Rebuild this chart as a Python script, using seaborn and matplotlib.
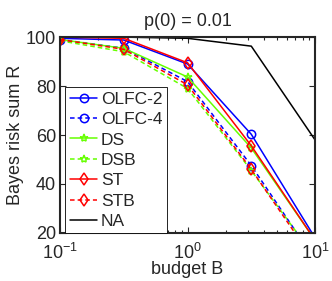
import numpy as np
import pandas as pd
import matplotlib
matplotlib.use("Agg")
import matplotlib.pyplot as plt
import seaborn as sns

# budget values (log spaced) and Bayes risk sums
budget = [0.1, 0.316, 1.0, 3.16, 10.0]
olfc2 = [99.5, 98.8, 89.0, 60.3, 18.0]
olfc4 = [99.0, 95.5, 81.8, 47.5, 9.0]
ds = [99.0, 95.4, 83.7, 54.7, 17.0]
dsb = [98.5, 94.0, 79.0, 45.5, 10.0]
st = [100.0, 99.5, 89.5, 55.6, 17.0]
stb = [99.0, 95.0, 80.5, 46.0, 8.0]
na = [100.0, 100.0, 99.5, 96.3, 58.0]

series = ["OLFC-2", "OLFC-4", "DS", "DSB", "ST", "STB", "NA"]
values = [olfc2, olfc4, ds, dsb, st, stb, na]

green = (0.4, 1.0, 0.0)
dash = (0, (3, 2))
styles = {
    "OLFC-2": dict(color="blue", ls="-", marker="o"),
    "OLFC-4": dict(color="blue", ls=dash, marker="o"),
    "DS": dict(color=green, ls="-", marker="*"),
    "DSB": dict(color=green, ls=dash, marker="*"),
    "ST": dict(color="red", ls="-", marker="d"),
    "STB": dict(color="red", ls=dash, marker="d"),
    "NA": dict(color="black", ls="-", marker=None),
}

df = pd.DataFrame({"budget": budget * len(series),
                   "risk": sum(values, []),
                   "method": np.repeat(series, len(budget))})

sns.set_style("ticks")
plt.rcParams['font.family'] = ['Liberation Sans', 'DejaVu Sans']
plt.rcParams['xtick.direction'] = 'in'
plt.rcParams['ytick.direction'] = 'in'

fig = plt.figure(figsize=(3.32, 2.81), dpi=100)
ax = fig.add_axes([0.181, 0.171, 0.768, 0.697])

for name in series:
    s = styles[name]
    sns.lineplot(data=df[df.method == name], x="budget", y="risk", ax=ax,
                 color=s["color"], linestyle=s["ls"], marker=s["marker"],
                 markersize=6, markerfacecolor="none", markeredgecolor=s["color"],
                 markeredgewidth=1.1, linewidth=1.1, label=name)

ax.set_xscale("log")
ax.set_xlim(0.1, 10)
ax.set_ylim(20, 100)
ax.set_yticks([20, 40, 60, 80, 100])
ax.tick_params(which="both", top=True, right=True, labelsize=13, length=4, width=0.8, pad=3)
ax.tick_params(axis="x", which="major", pad=7)
ax.tick_params(which="minor", length=2)
for sp in ax.spines.values():
    sp.set_linewidth(1.5)

ax.set_title("p(0) = 0.01", fontsize=13, pad=8)
ax.set_xlabel("budget B", fontsize=13, labelpad=-1)
ax.set_ylabel("Bayes risk sum R", fontsize=13, labelpad=1)

leg = ax.legend(loc="upper left", bbox_to_anchor=(0.0, 0.77), fontsize=12.5,
                handlelength=1.6, handletextpad=0.2, labelspacing=0.3,
                borderpad=0.25, borderaxespad=0.3, fancybox=False,
                edgecolor="black", framealpha=1)
leg.get_frame().set_linewidth(0.6)

fig.savefig("out.png", dpi=100)
